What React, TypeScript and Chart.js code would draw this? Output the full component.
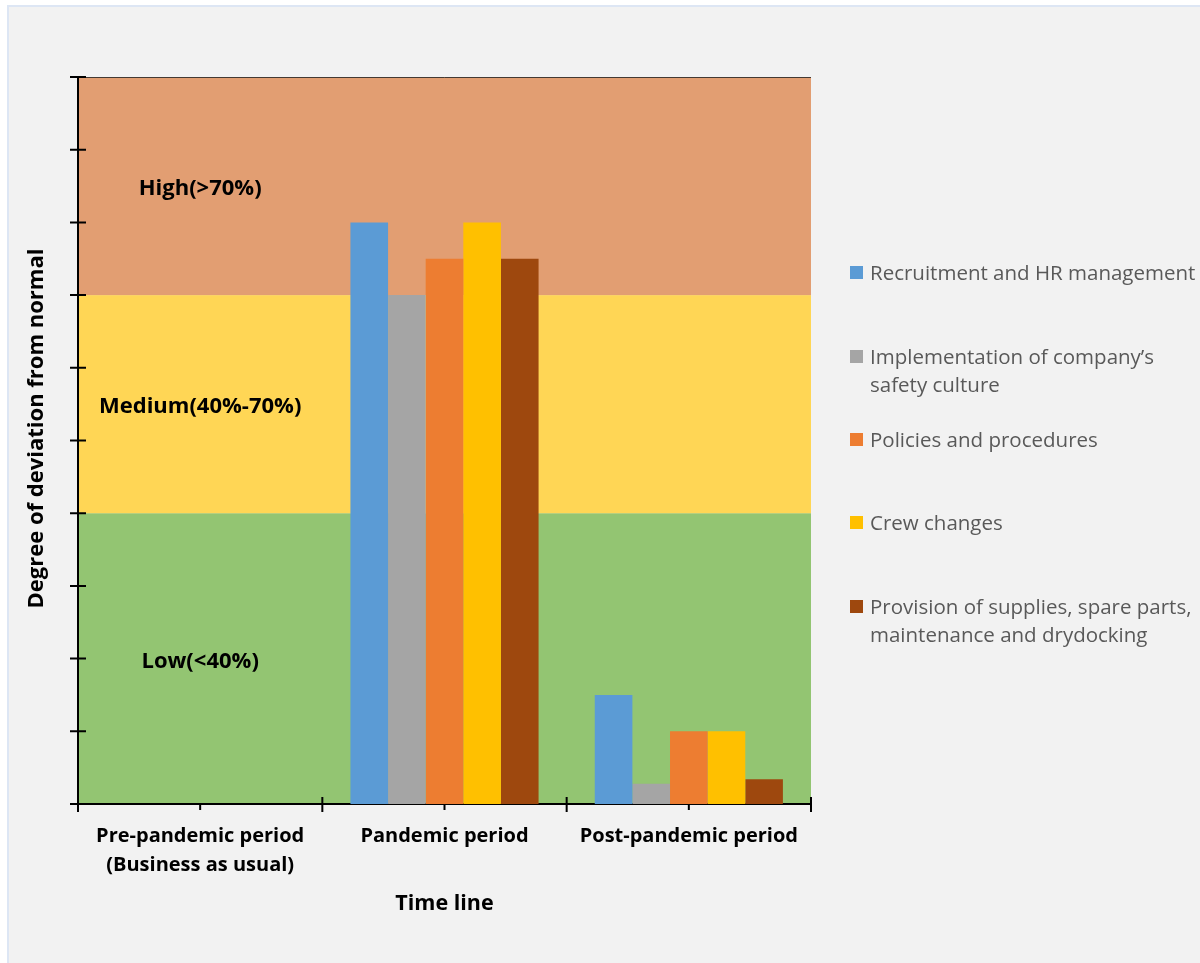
import React, { useEffect, useRef } from "react";
import { Chart, registerables } from "chart.js";

Chart.register(...registerables);

const categories: (string | string[])[] = [
  ["Pre-pandemic period", "(Business as usual)"],
  "Pandemic period",
  "Post-pandemic period",
];

const seriesNames = [
  "Recruitment and HR management",
  "Implementation of company’s safety culture",
  "Policies and procedures",
  "Crew changes",
  "Provision of supplies, spare parts, maintenance and drydocking",
];
const legendLines = [
  ["Recruitment and HR management"],
  ["Implementation of company’s", "safety culture"],
  ["Policies and procedures"],
  ["Crew changes"],
  ["Provision of supplies, spare parts,", "maintenance and drydocking"],
];
const recruitment = [0, 80, 15];
const safetyCulture = [0, 70, 2.8];
const policies = [0, 75, 10];
const crewChanges = [0, 80, 10];
const supplies = [0, 75, 3.4];

const seriesColors = ["#5b9bd5", "#a5a5a5", "#ed7d31", "#ffc000", "#9e480e"];

const bandEdges = [0, 40, 70, 100];
const bandColors = ["#93c572", "#ffd655", "#e29e72"];
const bandLabels = ["Low(<40%)", "Medium(40%-70%)", "High(>70%)"];
const bandLabelValues = [20, 55, 85];

const yTickValues = [0, 10, 20, 30, 40, 50, 60, 70, 80, 90, 100];
const yTitle = "Degree of deviation from normal";

const FONT = "'Open Sans', 'DejaVu Sans', sans-serif";

const bandsPlugin = {
  id: "bands",
  beforeDraw(chart: any) {
    const { ctx, chartArea } = chart;
    const y = chart.scales.y;
    ctx.save();
    for (let i = 0; i < bandColors.length; i++) {
      const top = y.getPixelForValue(bandEdges[i + 1]);
      const bot = y.getPixelForValue(bandEdges[i]);
      ctx.fillStyle = bandColors[i];
      ctx.fillRect(chartArea.left, top, chartArea.right - chartArea.left, bot - top);
    }
    ctx.strokeStyle = "rgba(40,40,40,0.85)";
    ctx.lineWidth = 1;
    ctx.beginPath();
    const t = Math.round(y.getPixelForValue(100)) + 0.5;
    ctx.moveTo(chartArea.left, t);
    ctx.lineTo(chartArea.right, t);
    ctx.stroke();
    ctx.restore();
  },
  afterDatasetsDraw(chart: any) {
    const { ctx } = chart;
    const x = chart.scales.x;
    const y = chart.scales.y;
    ctx.save();
    ctx.fillStyle = "#000";
    ctx.font = `bold 22px ${FONT}`;
    ctx.textAlign = "center";
    ctx.textBaseline = "middle";
    const cx = x.getPixelForValue(0);
    for (let i = 0; i < bandLabels.length; i++) {
      ctx.fillText(bandLabels[i], cx, y.getPixelForValue(bandLabelValues[i]) + 3);
    }
    ctx.restore();
  },
};

const ticksPlugin = {
  id: "crossTicks",
  afterDraw(chart: any) {
    const { ctx, chartArea } = chart;
    const x = chart.scales.x;
    const y = chart.scales.y;
    ctx.save();
    ctx.strokeStyle = "#000";
    ctx.lineWidth = 2;
    ctx.beginPath();
    for (const v of yTickValues) {
      const py = y.getPixelForValue(v);
      ctx.moveTo(chartArea.left - 8, py);
      ctx.lineTo(chartArea.left + 8, py);
    }
    const n = categories.length;
    for (let i = 0; i <= n; i++) {
      const bx = chartArea.left + ((chartArea.right - chartArea.left) * i) / n;
      ctx.moveTo(bx, chartArea.bottom - 7);
      ctx.lineTo(bx, chartArea.bottom + 8);
    }
    for (let i = 0; i < n; i++) {
      const cx = x.getPixelForValue(i);
      ctx.moveTo(cx, chartArea.bottom);
      ctx.lineTo(cx, chartArea.bottom + 6);
    }
    ctx.stroke();

    // vertical axis title
    ctx.fillStyle = "#000";
    ctx.font = `bold 22px ${FONT}`;
    ctx.textAlign = "center";
    ctx.textBaseline = "middle";
    ctx.translate(37, (chartArea.top + chartArea.bottom) / 2 - 12);
    ctx.rotate(-Math.PI / 2);
    ctx.fillText(yTitle, 0, 0);
    ctx.restore();
  },
};

const legendPlugin = {
  id: "sideLegend",
  afterDraw(chart: any) {
    const { ctx } = chart;
    const starts = [272, 356, 439, 522, 606];
    ctx.save();
    ctx.font = `20.5px ${FONT}`;
    ctx.textBaseline = "middle";
    ctx.textAlign = "left";
    chart.data.datasets.forEach((ds: any, i: number) => {
      const y0 = starts[i];
      ctx.fillStyle = ds.backgroundColor;
      ctx.fillRect(850, y0 - 6, 13, 13);
      ctx.fillStyle = "#595959";
      legendLines[i].forEach((line, j) => {
        ctx.fillText(line, 870, y0 + 2 + j * 28);
      });
    });
    ctx.restore();
  },
};

export default function App() {
  const ref = useRef<HTMLCanvasElement | null>(null);
  useEffect(() => {
    if (!ref.current) return;
    const values = [recruitment, safetyCulture, policies, crewChanges, supplies];
    const chart = new Chart(ref.current, {
      type: "bar",
      data: {
        labels: categories as any,
        datasets: seriesNames.map((name, i) => ({
          label: name,
          data: values[i],
          backgroundColor: seriesColors[i],
          borderWidth: 0,
          categoryPercentage: 0.77,
          barPercentage: 1,
        })),
      },
      options: {
        animation: false,
        responsive: false,
        maintainAspectRatio: false,
        layout: { padding: { left: 20, top: 77, right: 389, bottom: 0 } },
        plugins: {
          legend: { display: false },
          tooltip: { enabled: false },
        },
        scales: {
          x: {
            grid: { display: false },
            border: { display: true, color: "#000", width: 2 },
            ticks: {
              color: "#000",
              font: { family: FONT, size: 20, weight: "bold", lineHeight: 1.45 },
              padding: 10,
              maxRotation: 0,
              autoSkip: false,
            },
            title: {
              display: true,
              text: "Time line",
              color: "#000",
              font: { family: FONT, size: 21.5, weight: "bold", lineHeight: 1.2 },
              padding: { top: 4, bottom: 46 },
            },
            afterFit(scale: any) {
              scale.height = 159;
            },
          },
          y: {
            min: 0,
            max: 100,
            ticks: { display: false, stepSize: 10 },
            grid: { display: false },
            border: { display: true, color: "#000", width: 2 },
            afterFit(scale: any) {
              scale.width = 58;
            },
          },
        },
      },
      plugins: [bandsPlugin, ticksPlugin, legendPlugin],
    });
    return () => chart.destroy();
  }, []);

  return (
    <div style={{ position: "fixed", left: 0, top: 0, width: 1200, height: 963, background: "#fff", overflow: "hidden" }}>
      <div
        style={{
          position: "absolute",
          left: 7,
          top: 5,
          width: 1220,
          height: 1000,
          border: "2px solid #dde6f4",
          background: "#f2f2f2",
        }}
      />
      <canvas ref={ref} width={1200} height={963} style={{ position: "absolute", left: 0, top: 0, width: 1200, height: 963 }} />
    </div>
  );
}
